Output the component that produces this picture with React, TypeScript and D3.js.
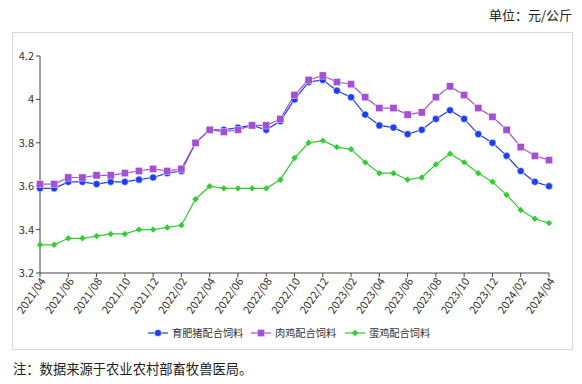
import React from "react";
import * as d3 from "d3";

const months: string[] = [];
for (let i = 0; i < 37; i++) {
  const y = 2021 + Math.floor((3 + i) / 12);
  const m = ((3 + i) % 12) + 1;
  months.push(`${y}/${String(m).padStart(2, "0")}`);
}

const pig = [3.59,3.59,3.62,3.62,3.61,3.62,3.62,3.63,3.64,3.66,3.67,3.80,3.86,3.86,3.87,3.88,3.86,3.90,4.00,4.08,4.09,4.04,4.01,3.93,3.88,3.87,3.84,3.86,3.91,3.95,3.91,3.84,3.80,3.74,3.67,3.62,3.60];
const broiler = [3.61,3.61,3.64,3.64,3.65,3.65,3.66,3.67,3.68,3.67,3.68,3.80,3.86,3.85,3.86,3.88,3.88,3.91,4.02,4.09,4.11,4.08,4.07,4.01,3.96,3.96,3.93,3.94,4.01,4.06,4.02,3.96,3.92,3.86,3.78,3.74,3.72];
const layer = [3.33,3.33,3.36,3.36,3.37,3.38,3.38,3.40,3.40,3.41,3.42,3.54,3.60,3.59,3.59,3.59,3.59,3.63,3.73,3.80,3.81,3.78,3.77,3.71,3.66,3.66,3.63,3.64,3.70,3.75,3.71,3.66,3.62,3.56,3.49,3.45,3.43];
const yTicks = [3.2, 3.4, 3.6, 3.8, 4.0, 4.2];
const seriesNames = ["育肥猪配合饲料", "肉鸡配合饲料", "蛋鸡配合饲料"];

const W = 582, H = 384;
const font = "'Noto Sans CJK SC', 'Noto Sans', sans-serif";

export default function App() {
  const x = d3.scaleLinear().domain([0, 36]).range([40, 549]);
  const y = d3.scaleLinear().domain([3.2, 4.2]).range([273, 56]);
  const line = d3.line<number>().x((_, i) => x(i)).y((d) => y(d));
  const series = [
    { name: seriesNames[0], data: pig, color: "#1e3ff0", marker: "circle" },
    { name: seriesNames[1], data: broiler, color: "#a44fd4", marker: "square" },
    { name: seriesNames[2], data: layer, color: "#33cc33", marker: "diamond" },
  ];
  const marker = (type: string, cx: number, cy: number, color: string, key: any) => {
    if (type === "circle") return <circle key={key} cx={cx} cy={cy} r={3.6} fill={color} stroke="#fff" strokeWidth={0.6} />;
    if (type === "square") return <rect key={key} x={cx - 3.6} y={cy - 3.6} width={7.2} height={7.2} fill={color} stroke="#fff" strokeWidth={0.4} />;
    const s = 3.2;
    return <path key={key} d={`M${cx},${cy - s}L${cx + s},${cy}L${cx},${cy + s}L${cx - s},${cy}Z`} fill={color} />;
  };
  const legendX = [148, 251, 345];
  return (
    <svg width={W} height={H} style={{ position: "absolute", left: 0, top: 0 }} fontFamily={font}>
      <rect x={0} y={0} width={W} height={H} fill="#fff" />
      <text x={572} y={20} textAnchor="end" fontSize={13} fill="#222">单位：元/公斤</text>
      <rect x={12.5} y={32.5} width={560} height={317} fill="none" stroke="#d8d8d8" />
      {/* y axis */}
      <line x1={40} x2={40} y1={56} y2={273} stroke="#444" />
      {yTicks.map((t) => (
        <g key={t}>
          <line x1={36} x2={40} y1={y(t)} y2={y(t)} stroke="#444" />
          <text x={34} y={y(t) + 4} textAnchor="end" fontSize={11} fill="#333">{t === 4 ? "4" : t.toFixed(1)}</text>
        </g>
      ))}
      {/* x axis */}
      <line x1={40} x2={549} y1={273} y2={273} stroke="#444" />
      {months.map((m, i) => i % 2 === 0 ? (
        <g key={m}>
          <line x1={x(i)} x2={x(i)} y1={273} y2={277} stroke="#444" />
          <text transform={`translate(${x(i) + 3},${279}) rotate(-55)`} textAnchor="end" fontSize={11} fill="#333" dy="0.35em">{m}</text>
        </g>
      ) : null)}
      {series.map((s) => (
        <g key={s.name}>
          <path d={line(s.data) || ""} fill="none" stroke={s.color} strokeWidth={1.2} />
          {s.data.map((v, i) => marker(s.marker, x(i), y(v), s.color, i))}
        </g>
      ))}
      {/* legend */}
      {series.map((s, k) => (
        <g key={s.name}>
          <line x1={legendX[k]} x2={legendX[k] + 20} y1={333} y2={333} stroke={s.color} strokeWidth={1.2} />
          {marker(s.marker, legendX[k] + 10, 333, s.color, "m")}
          <text x={legendX[k] + 24} y={336.8} fontSize={10.2} fill="#333">{s.name}</text>
        </g>
      ))}
      <text x={13} y={374} fontSize={13.3} fill="#222">注：数据来源于农业农村部畜牧兽医局。</text>
    </svg>
  );
}
